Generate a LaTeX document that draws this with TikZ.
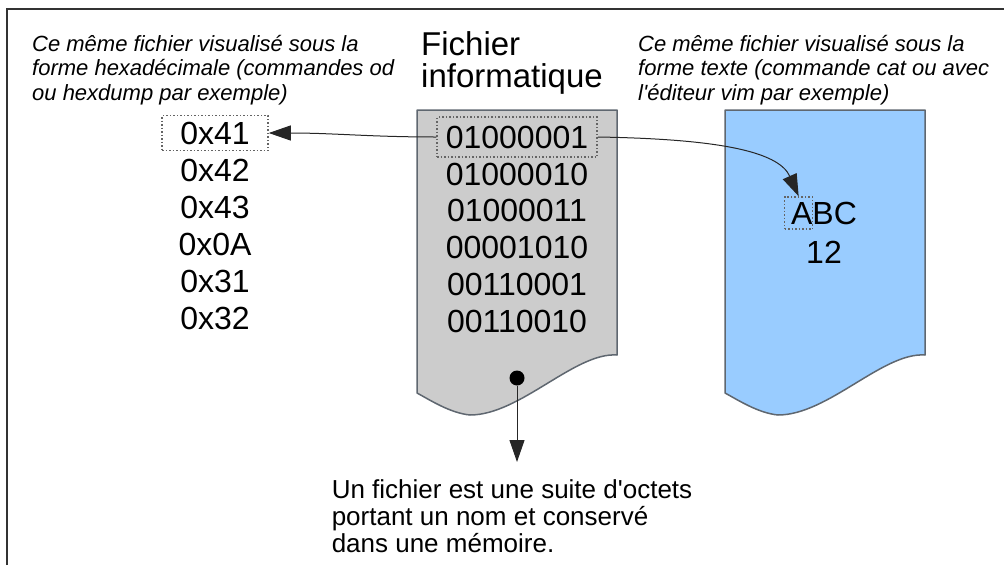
\documentclass[tikz,border=0pt]{standalone}
\usepackage{fontspec}
\setmainfont{Liberation Sans}
\usepackage{tikz}
\usetikzlibrary{arrows.meta}
\usetikzlibrary{positioning}

\definecolor{docgray}{RGB}{204,204,204}
\definecolor{docblue}{RGB}{153,204,255}
\definecolor{docline}{RGB}{95,103,112}
\definecolor{selline}{RGB}{100,100,100}

\begin{document}
\begin{tikzpicture}[x=1pt,y=-1pt,>={Triangle[length=22pt,width=15pt]},
  node distance=36.7pt,inner sep=0pt,
  big node/.style={font=\fontsize{32}{36.7}\selectfont,text height=23pt,text depth=0pt},
  sel box/.style={draw=selline,dash pattern=on 1.5pt off 2pt,line width=1.5pt},
  note/.style={align=left,font=\fontsize{22}{24.5}\selectfont\itshape},
  doc/.style={draw=docline,line width=1.5pt,line join=round},
  link/.style={->,draw=black!85,line width=1pt}]

  \useasboundingbox (0,0) rectangle (1004,565);
  \draw[line width=1.5pt,black!80] (7,565) -- (7,9) -- (1004,9);

  % the two files
  \draw[doc,fill=docgray] (417,110) -- (617,110) -- (617,355)
    .. controls (575,352) and (520,415) .. (470,415)
    .. controls (450,413) and (430,400) .. (417,393) -- cycle;
  \draw[doc,fill=docblue] (725,110) -- (925,110) -- (925,355)
    .. controls (883,352) and (828,415) .. (778,415)
    .. controls (758,413) and (738,400) .. (725,393) -- cycle;

  \node[anchor=north west,align=left,font=\fontsize{33}{32}\selectfont] (title) at (421,31) {Fichier\\informatique};
  \node[note,anchor=north west] (hexnote) at (32,35) {Ce même fichier visualisé sous la\\forme hexadécimale (commandes od\\ou hexdump par exemple)};
  \node[note,anchor=north west] (txtnote) at (638,35) {Ce même fichier visualisé sous la\\forme texte (commande cat ou avec\\l\textquotesingle éditeur vim par exemple)};

  % bytes
  \node[big node,sel box,minimum width=160pt,minimum height=40pt] (b1) at (517,137) {01000001};
  \node[big node] (b2) [below of=b1] {01000010};
  \node[big node] (b3) [below of=b2] {01000011};
  \node[big node] (b4) [below of=b3] {00001010};
  \node[big node] (b5) [below of=b4] {00110001};
  \node[big node] (b6) [below of=b5] {00110010};

  % hexadecimal view
  \node[big node,sel box,minimum width=106pt,minimum height=35pt] (h1) at (215,133) {0x41};
  \node[big node] (h2) [below of=h1,node distance=37pt] {0x42};
  \node[big node] (h3) [below of=h2,node distance=37pt] {0x43};
  \node[big node] (h4) [below of=h3,node distance=37pt] {0x0A};
  \node[big node] (h5) [below of=h4,node distance=37pt] {0x31};
  \node[big node] (h6) [below of=h5,node distance=37pt] {0x32};

  % text view
  \node[big node] (abc) at (824,213) {ABC};
  \node[big node] (n12) [below of=abc,node distance=39pt] {12};
  \node[sel box,minimum width=28pt,minimum height=32pt,anchor=west] (selA) at ([xshift=-7pt]abc.west) {};

  \node[circle,fill=black,minimum size=15pt] (dot) at (517,378) {};
  \coordinate (tip) at (517,462);
  \node[align=left,font=\fontsize{26}{27}\selectfont,below=17pt of tip,xshift=-5pt] (desc)
    {Un fichier est une suite d\textquotesingle octets\\portant un nom et conservé\\dans une mémoire.};

  \draw[link] (dot) -- (tip);
  \draw[link] (b1.west) to[out=180,in=0] (h1.east);
  \draw[link] (b1.east) .. controls +(120,2) and +(-20,-45) .. (selA.north);
\end{tikzpicture}
\end{document}
